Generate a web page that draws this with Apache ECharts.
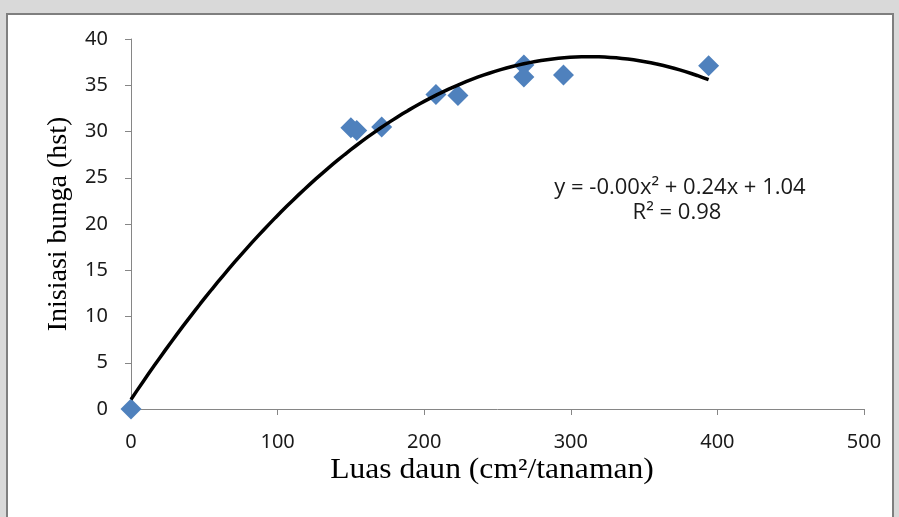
<!DOCTYPE html>
<html>
<head>
<meta charset="utf-8">
<script src="https://cdn.jsdelivr.net/npm/echarts@6/dist/echarts.min.js"></script>
<style>
  html, body { margin: 0; padding: 0; background: #d9d9d9; }
  #main { width: 899px; height: 517px; }
</style>
</head>
<body>
<div id="main"></div>
<script>
// luas daun (cm2/tanaman) vs inisiasi bunga (hst)
const luasDaun = [0, 150, 154, 171, 208, 223, 268, 268, 295, 394];
const inisiasi = [0, 30.4, 30.1, 30.5, 34.0, 33.9, 37.2, 35.9, 36.1, 37.1];
const xTicks = [0, 100, 200, 300, 400, 500];
const yTicks = [0, 5, 10, 15, 20, 25, 30, 35, 40];

// polynomial (order 2) trendline, least squares on the data above
function fitQuad(xs, ys) {
  const s = [0, 0, 0, 0, 0], t = [0, 0, 0];
  xs.forEach((x, i) => {
    for (let k = 0; k < 5; k++) s[k] += Math.pow(x, k);
    for (let k = 0; k < 3; k++) t[k] += Math.pow(x, k) * ys[i];
  });
  const m = [[s[0], s[1], s[2], t[0]], [s[1], s[2], s[3], t[1]], [s[2], s[3], s[4], t[2]]];
  for (let i = 0; i < 3; i++) {
    for (let j = i + 1; j < 3; j++) {
      const f = m[j][i] / m[i][i];
      for (let k = i; k < 4; k++) m[j][k] -= f * m[i][k];
    }
  }
  const c = [0, 0, 0];
  for (let i = 2; i >= 0; i--) {
    let v = m[i][3];
    for (let k = i + 1; k < 3; k++) v -= m[i][k] * c[k];
    c[i] = v / m[i][i];
  }
  return c;
}
const coef = fitQuad(luasDaun, inisiasi);
const xMax = Math.max(...luasDaun);
const trend = [];
for (let i = 0; i <= 100; i++) {
  const x = xMax * i / 100;
  trend.push([x, coef[0] + coef[1] * x + coef[2] * x * x]);
}

const numFont = '"Noto Sans", sans-serif';
const titleFont = '"Liberation Serif", "Times New Roman", serif';

const chart = echarts.init(document.getElementById('main'));
chart.setOption({
  animation: false,
  backgroundColor: '#d9d9d9',
  grid: { left: 131, right: 35, top: 39, bottom: 108 },
  graphic: [
    {
      type: 'rect', z: -10, silent: true,
      shape: { x: 7, y: 14, width: 886, height: 520 },
      style: { fill: '#ffffff', stroke: '#7f7f7f', lineWidth: 2 }
    },
    {
      type: 'text', x: 680, y: 188,
      style: { text: 'y = -0.00x² + 0.24x + 1.04', font: '22px "Open Sans", sans-serif',
        fill: '#1a1a1a', align: 'center', verticalAlign: 'middle' }
    },
    {
      type: 'text', x: 677, y: 213,
      style: { text: 'R² = 0.98', font: '22px "Open Sans", sans-serif',
        fill: '#1a1a1a', align: 'center', verticalAlign: 'middle' }
    },
    {
      type: 'text', x: 492, y: 470, scaleX: 1.09,
      style: { text: 'Luas daun (cm²/tanaman)', font: '29px ' + titleFont,
        fill: '#000', align: 'center', verticalAlign: 'middle' }
    }
  ],
  xAxis: {
    type: 'value', min: 0, max: 500, interval: 100,
    axisLine: { show: true, lineStyle: { color: '#868686', width: 1 } },
    axisTick: { show: true, length: 6, lineStyle: { color: '#868686' } },
    axisLabel: { fontFamily: numFont, fontSize: 20, color: '#1a1a1a', margin: 23,
      formatter: v => xTicks.includes(v) ? String(v) : '' },
    splitLine: { show: false }
  },
  yAxis: {
    type: 'value', min: 0, max: 40, interval: 5,
    name: 'Inisiasi bunga (hst)', nameLocation: 'middle', nameGap: 58, nameRotate: 90,
    nameTextStyle: { fontFamily: titleFont, fontSize: 28, color: '#000' },
    axisLine: { show: true, lineStyle: { color: '#868686', width: 1 } },
    axisTick: { show: true, length: 6, lineStyle: { color: '#868686' } },
    axisLabel: { fontFamily: numFont, fontSize: 20, color: '#1a1a1a', margin: 23,
      formatter: v => yTicks.includes(v) ? String(v) : '' },
    splitLine: { show: false }
  },
  series: [
    {
      type: 'line', data: trend, showSymbol: false, smooth: false, z: 3,
      lineStyle: { color: '#000', width: 3.5 }
    },
    {
      type: 'scatter', data: luasDaun.map((x, i) => [x, inisiasi[i]]),
      symbol: 'diamond', symbolSize: [21, 21], z: 2,
      itemStyle: { color: '#4f81bd', opacity: 1 }
    }
  ]
});
</script>
</body>
</html>
